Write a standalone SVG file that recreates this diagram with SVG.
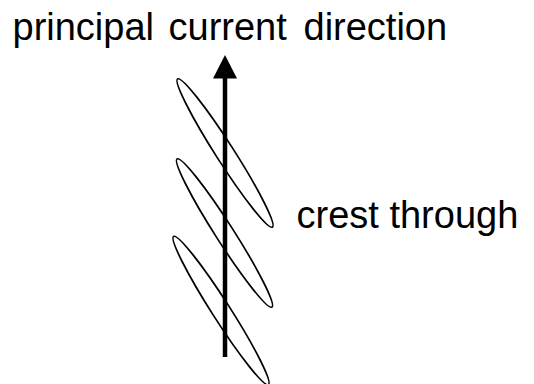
<svg xmlns="http://www.w3.org/2000/svg" width="534" height="384" viewBox="0 0 534 384">
<style>
text{font-family:"Liberation Sans",Arial,sans-serif;font-size:38px;fill:#000}
.crest ellipse{fill:none;stroke:#000;stroke-width:1.7}
</style>
<rect width="534" height="384" fill="#fff"/>
<g id="crests" class="crest">
<ellipse id="crest1" cx="225" cy="153" rx="88" ry="9" transform="rotate(57.4 225 153)"/>
<ellipse id="crest2" cx="224.5" cy="233" rx="88" ry="9" transform="rotate(57.4 224.5 233)"/>
<ellipse id="crest3" cx="221" cy="310.5" rx="88" ry="9" transform="rotate(57.4 221 310.5)"/>
</g>
<g id="connectors">
<line x1="225" y1="357" x2="225" y2="70" stroke="#000" stroke-width="4.5"/>
<path d="M213,78.5 L225,55 L237,78.5 Z" fill="#000"/>
</g>
<g id="label-direction">
<text y="40"><tspan x="12.5">principal</tspan><tspan x="168.5">current</tspan><tspan x="303.5">direction</tspan></text>
</g>
<g id="label-crest">
<text x="296.5" y="228">crest through</text>
</g>
</svg>
